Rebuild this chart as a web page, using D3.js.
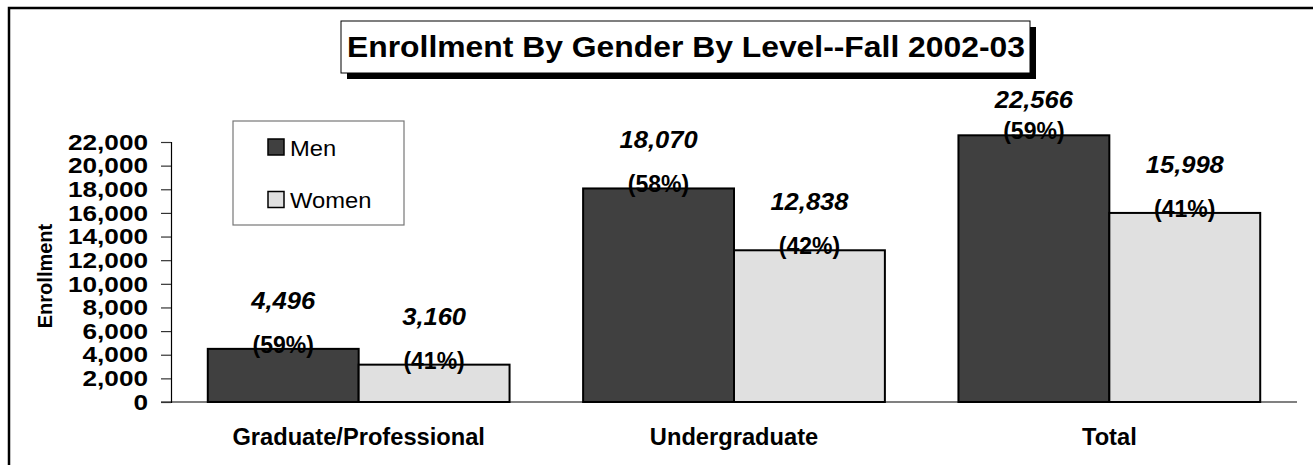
<!DOCTYPE html>
<html>
<head>
<meta charset="utf-8">
<script src="https://cdn.jsdelivr.net/npm/d3@7"></script>
<style>
  body { margin: 0; background: #fff; }
  text { font-family: "Liberation Sans", Arial, sans-serif; }
</style>
</head>
<body>
<div id="canvas"></div>
<script>
// data
const levels = ["Graduate/Professional", "Undergraduate", "Total"];
const series = ["Men", "Women"];
const men = [4496, 18070, 22566];
const women = [3160, 12838, 15998];
const yTicks = [0, 2000, 4000, 6000, 8000, 10000, 12000, 14000, 16000, 18000, 20000, 22000];
const colors = ["#404040", "#e0e0e0"];

const width = 1313;
const height = 465;
const margin = { top: 142, left: 171, bottom: 63, right: 16 };

const svg = d3.select("#canvas").append("svg")
  .attr("width", width)
  .attr("height", height);

// outer frame (runs off the right and bottom edge)
svg.append("rect")
  .attr("x", 9).attr("y", 8)
  .attr("width", 1400).attr("height", 500)
  .attr("fill", "none").attr("stroke", "#000").attr("stroke-width", 2.5);

const x = d3.scaleBand()
  .domain(levels)
  .range([margin.left, width - margin.right])
  .paddingInner(0.196)
  .paddingOuter(0.098);

const x1 = d3.scaleBand()
  .domain(series)
  .range([0, x.bandwidth()]);

const y = d3.scaleLinear()
  .domain([0, 22000])
  .range([height - margin.bottom, margin.top]);

const rows = levels.map((l, i) => ({ level: l, values: [men[i], women[i]] }));

// x axis line (grey)
svg.append("line")
  .attr("x1", margin.left - 10).attr("x2", width - margin.right)
  .attr("y1", y(0)).attr("y2", y(0))
  .attr("stroke", "#808080").attr("stroke-width", 2);

// y axis
const yAxis = svg.append("g")
  .attr("transform", `translate(${margin.left},0)`)
  .call(d3.axisLeft(y).tickValues(yTicks).tickFormat(d3.format(",")).tickSize(10).tickPadding(13));
yAxis.select(".domain").attr("stroke", "#000").attr("stroke-width", 1.2);
yAxis.selectAll(".tick line").attr("stroke", "#333").attr("stroke-width", 1.2);
yAxis.selectAll(".tick text")
  .attr("x", 0).attr("dy", "0.33em")
  .attr("transform", "translate(-23,0) scale(1.19,1)")
  .style("font-size", "22px").style("font-weight", "bold").style("fill", "#000")
  .style("font-family", "'Liberation Sans', Arial, sans-serif");

// y title
svg.append("text")
  .attr("transform", `translate(52,${(y(0) + y(22000)) / 2 + 4}) rotate(-90)`)
  .attr("text-anchor", "middle")
  .style("font-size", "20px").style("font-weight", "bold")
  .text("Enrollment");

// bars
const groups = svg.selectAll("g.group").data(rows).enter().append("g")
  .attr("class", "group")
  .attr("transform", d => `translate(${x(d.level)},0)`);

groups.selectAll("rect").data(d => d.values.map((v, j) => ({ key: series[j], v: v, j: j })))
  .enter().append("rect")
  .attr("x", d => x1(d.key))
  .attr("y", d => y(d.v))
  .attr("width", x1.bandwidth())
  .attr("height", d => y(0) - y(d.v))
  .attr("fill", d => colors[d.j])
  .attr("stroke", "#000").attr("stroke-width", 2);

// value labels + percent labels
const fmt = d3.format(",");
groups.each(function (d) {
  const g = d3.select(this);
  const total = d3.sum(d.values);
  d.values.forEach((v, j) => {
    const cx = x1(series[j]) + x1.bandwidth() / 2;
    const vy = Math.max(y(v) - 40, 108);
    g.append("text")
      .attr("transform", `translate(${cx},${vy}) scale(1.11,1)`)
      .attr("text-anchor", "middle")
      .style("font-size", "23px").style("font-weight", "bold").style("font-style", "italic")
      .text(fmt(v));
    g.append("text")
      .attr("x", cx).attr("y", y(v) + 4)
      .attr("text-anchor", "middle")
      .style("font-size", "23px").style("font-weight", "bold")
      .text("(" + Math.round(v / total * 100) + "%)");
  });
});

// category labels
svg.selectAll("text.cat").data(levels).enter().append("text")
  .attr("class", "cat")
  .attr("transform", d => `translate(${x(d) + x.bandwidth() / 2},445) scale(1.03,1)`)
  .attr("text-anchor", "middle")
  .style("font-size", "23px").style("font-weight", "bold")
  .text(d => d);

// legend
const legend = svg.append("g").attr("transform", "translate(233,121)");
legend.append("rect")
  .attr("width", 171).attr("height", 104)
  .attr("fill", "#fff").attr("stroke", "#777").attr("stroke-width", 1.2);
const li = legend.selectAll("g").data(series).enter().append("g")
  .attr("transform", (d, i) => `translate(35,${18 + i * 52.5})`);
li.append("rect")
  .attr("width", 16).attr("height", 16)
  .attr("fill", (d, i) => colors[i]).attr("stroke", "#000").attr("stroke-width", 1.5);
li.append("text")
  .attr("transform", "translate(22,16.5) scale(1.08,1)")
  .style("font-size", "22px")
  .text(d => d);

// title with shadow box
svg.append("rect")
  .attr("x", 347).attr("y", 27).attr("width", 689).attr("height", 52)
  .attr("fill", "#000");
svg.append("rect")
  .attr("x", 341).attr("y", 21).attr("width", 689).attr("height", 52)
  .attr("fill", "#fff").attr("stroke", "#000").attr("stroke-width", 1);
svg.append("text")
  .attr("x", 347).attr("y", 57)
  .attr("textLength", 678).attr("lengthAdjust", "spacingAndGlyphs")
  .style("font-size", "30px").style("font-weight", "bold")
  .text("Enrollment By Gender By Level--Fall 2002-03");
</script>
</body>
</html>
